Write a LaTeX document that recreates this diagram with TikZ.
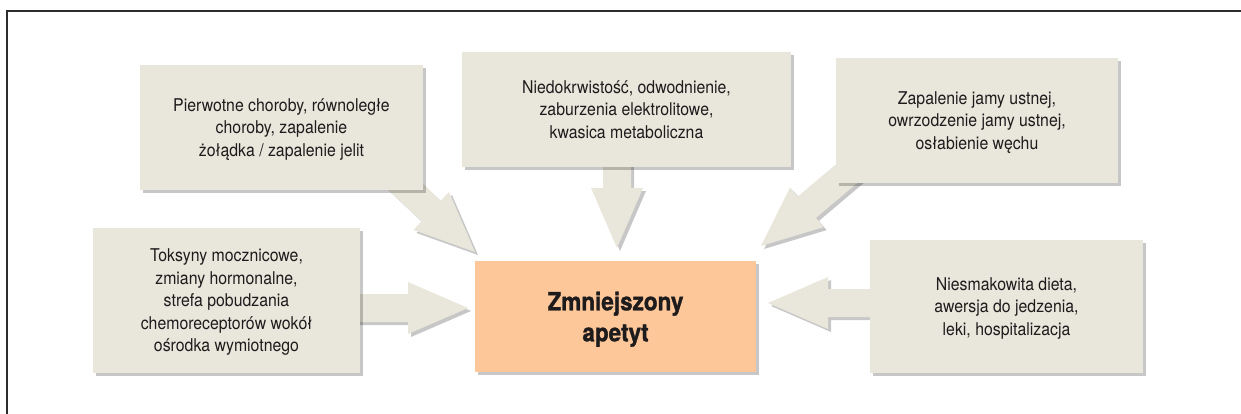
\documentclass[tikz,border=0pt]{standalone}
\usepackage{fontspec}
\setmainfont{TeX Gyre Heros}[FakeStretch=0.9,BoldFeatures={FakeBold=1.2}]
\usetikzlibrary{calc,shadows}
\definecolor{boxfill}{RGB}{233,231,220}
\definecolor{centerfill}{RGB}{253,199,153}
\definecolor{txt}{RGB}{30,27,28}
\definecolor{framecol}{RGB}{45,45,45}
\pgfdeclarelayer{background}
\pgfsetlayers{background,main}
\newcommand{\blkarrow}[2]{%
  \coordinate (hb) at ($(#2)!60pt!(#1)$);
  \fill[arrowstyle] ($(#1)!14pt!90:(#2)$) -- ($(hb)!14pt!90:(#2)$) -- ($(hb)!26pt!90:(#2)$) -- (#2)
    -- ($(hb)!26pt!-90:(#2)$) -- ($(hb)!14pt!-90:(#2)$) -- ($(#1)!14pt!-90:(#2)$) -- cycle;
}
\begin{document}
\begin{tikzpicture}[x=1pt,y=-1pt,
  shadowed/.style={drop shadow={shadow xshift=3pt,shadow yshift=-3pt,fill=black,opacity=0.22}},
  box/.style={fill=boxfill,text=txt,align=center,inner sep=0pt,shadowed,text depth=0pt,
    font=\fontsize{17.6}{22.5}\selectfont},
  centerbox/.style={fill=centerfill,text=txt,align=center,inner sep=0pt,shadowed,text depth=0pt,
    font=\bfseries\fontsize{25}{31}\selectfont},
  arrowstyle/.style={fill=boxfill,shadowed},
  frameline/.style={draw=framecol,line width=1.5pt}]
\useasboundingbox (0,0) rectangle (1241,414);
\coordinate (fTL) at (7,11);
\coordinate (fBL) at (7,414);
\coordinate (fTR) at (1241,11);
\draw[frameline] (fBL) -- (fTL) -- (fTR);

\node[box,minimum width=283pt,minimum height=125pt] (a) at (281.5,127.5)
  {Pierwotne choroby, równoległe\\choroby, zapalenie\\żołądka / zapalenie jelit};
\node[box,minimum width=329pt,minimum height=115pt] (b) at (626.5,109.5)
  {Niedokrwistość, odwodnienie,\\zaburzenia elektrolitowe,\\kwasica metaboliczna};
\node[box,minimum width=282pt,minimum height=125pt] (c) at (977,120.5)
  {Zapalenie jamy ustnej,\\owrzodzenie jamy ustnej,\\osłabienie węchu};
\node[box,minimum width=267pt,minimum height=145pt] (d) at (226.5,300.5)
  {Toksyny mocznicowe,\\zmiany hormonalne,\\strefa pobudzania\\chemoreceptorów wokół\\ośrodka wymiotnego};
\node[box,minimum width=273pt,minimum height=133pt] (e) at (1006.5,306.5)
  {Niesmakowita dieta,\\awersja do jedzenia,\\leki, hospitalizacja};
\node[centerbox,minimum width=281pt,minimum height=111pt] (z) at (615.5,316.5)
  {Zmniejszony\\apetyt};

\coordinate (aS) at (380,163);  \coordinate (aT) at (475,252);
\coordinate (bS) at (617,150);  \coordinate (bT) at (617,248);
\coordinate (cS) at (858,164);  \coordinate (cT) at (761,246);
\coordinate (dS) at (340,308);  \coordinate (dT) at (468,308);
\coordinate (eS) at (890,303);  \coordinate (eT) at (768,303);
\begin{pgfonlayer}{background}
\blkarrow{aS}{aT}
\blkarrow{bS}{bT}
\blkarrow{cS}{cT}
\blkarrow{dS}{dT}
\blkarrow{eS}{eT}
\end{pgfonlayer}
\end{tikzpicture}
\end{document}
